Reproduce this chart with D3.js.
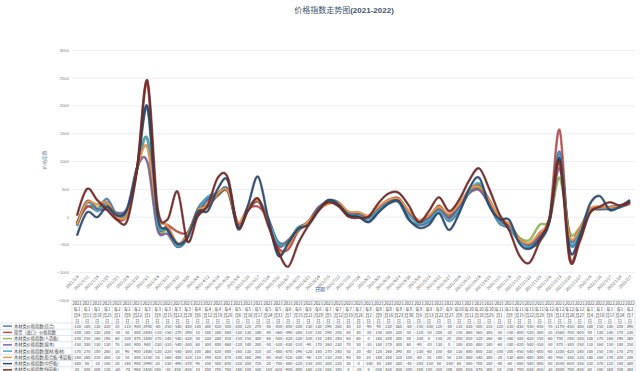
<!DOCTYPE html>
<html>
<head>
<meta charset="utf-8">
<script src="https://cdn.jsdelivr.net/npm/d3@7"></script>
<style>
  body { margin: 0; background: #fff; }
  svg { display: block; font-family: "Noto Sans CJK SC", "Noto Sans", sans-serif; }
</style>
</head>
<body>
<svg id="chart" width="640" height="371"></svg>
<script>
const dates = ["2021-1-4","2021-1-11","2021-1-18","2021-1-25","2021-2-1","2021-2-8","2021-2-22","2021-3-1","2021-3-8","2021-3-15","2021-3-22","2021-3-29","2021-4-6","2021-4-12","2021-4-19","2021-4-26","2021-5-6","2021-5-10","2021-5-17","2021-5-24","2021-5-31","2021-6-7","2021-6-15","2021-6-21","2021-6-28","2021-7-5","2021-7-12","2021-7-19","2021-7-26","2021-8-2","2021-8-9","2021-8-16","2021-8-23","2021-8-30","2021-9-6","2021-9-13","2021-9-22","2021-9-27","2021-10-8","2021-10-11","2021-10-18","2021-10-25","2021-11-1","2021-11-8","2021-11-15","2021-11-22","2021-11-29","2021-12-6","2021-12-13","2021-12-20","2021-12-27","2022-1-4","2022-1-10","2022-1-17","2022-1-24","2022-2-7"];

const seriesNames = ["木材类价格指数(综合)", "现货（进口）价格指数", "木材类价格指数(人造板)", "木材类价格指数(原木)", "木材类价格指数(锯材/板材)", "木材类价格指数(胶合板/多层板)", "木材类价格指数(中纤板)", "木材类价格指数(刨花板)"];
const seriesColors = ["#4F81BD", "#C0504D", "#9BBB59", "#8064A2", "#4BACC6", "#F79646", "#2C4D75", "#772C2A"];

const s1 = [-130,180,130,320,20,110,900,1950,-60,-250,-540,-380,140,340,420, 500,-200,120,270,-40,-450,-450,-200,-130,130,290,260,40,10,-90,90,230,260,-60,-150, -100,120,-80,110,430,500,210,-120,-210,-430,-550,-450,-70,1170,-450,-300,100,150,180,200,290];
const s2 = [-100,180,130,200,-50,50,880,2400,-110,-150,-270,-290,10,180,380, 480,-130,130,180,-40,-560,-590,-260,-110,130,290,200,80,40,-20,150,300,330,50,-120, -50,200,-30,150,460,560,300,-50,-150,-400,-520,-300,-20,1560,-700,-400,80,130,140,170,230];
const s3 = [-150,250,160,190,60,100,870,1400,-170,-240,-540,-320,50,230,380, 450,-150,150,300,-60,-500,-420,-230,-100,150,240,240,60,60,0,160,280,300,80,-100, 0,150,20,200,450,520,260,-40,-160,-380,-420,-150,-60,700,-280,-200,120,170,160,190,260];
const s4 = [-150,280,130,130,70,160,900,980,-230,-310,-540,-300,60,300,400, 460,-120,140,280,-50,-520,-430,-210,-90,170,260,230,70,50,-10,140,270,300,60,-90, -20,130,0,180,420,480,240,-60,-180,-420,-500,-350,-50,870,-380,-250,110,160,150,180,250];
const s5 = [-170,270,100,260,20,90,900,1400,-120,-220,-540,-300,100,360,420, 480,-160,130,310,-30,-480,-470,-190,-120,140,270,240,50,20,-40,120,260,290,40,-130, -60,100,-60,130,440,600,230,-100,-200,-450,-540,-400,-60,1100,-420,-280,100,150,150,170,270];
const s6 = [-140,260,220,260,-10,50,880,1250,20,-160,-480,-320,110,190,420, 470,-100,160,290,-80,-650,-520,-240,-90,120,230,250,90,80,20,180,300,320,100,-60, 20,180,50,220,480,540,300,-20,-130,-400,-480,-300,-40,950,-350,-220,140,180,170,200,240];
const s7 = [-340,80,-10,180,20,140,900,1990,20,-230,-490,-370,90,100,500, 650,-220,200,720,-20,-700,-480,-220,-150,100,300,220,30,0,-100,80,240,280,-40,-200, -150,60,-240,60,500,700,200,-40,-60,-480,-580,-400,-80,1050,-600,-350,220,370,120,180,300];
const s8 = [20,500,300,120,-60,-70,900,2450,180,-50,450,-450,10,200,700, 700,-180,100,330,-150,-620,-900,-480,-160,120,260,190,0,-20,0,250,420,430,200,-100, 100,350,100,300,650,870,500,50,-250,-700,-830,-450,-30,1000,-780,-450,60,180,260,200,260];

const yTicks = [3000, 2500, 2000, 1500, 1000, 500, 0, -500, -1000, -1500];

const allSeries = [s1, s2, s3, s4, s5, s6, s7, s8].map((values, i) => ({
    name: seriesNames[i],
    color: seriesColors[i],
    values
}));

const svg = d3.select("#chart");
const plot = { left: 72, right: 635, top: 50, bottom: 300 };

const x = d3.scaleBand().domain(dates).range([plot.left, plot.right]);
const y = d3.scaleLinear().domain([-1500, 3000]).range([plot.bottom, plot.top]);
const bw = x.bandwidth();
const cx = d => x(d) + bw / 2;

// title
let title = svg.append("text")
    .attr("x", 344).attr("y", 13)
    .attr("text-anchor", "middle")
    .attr("font-size", 8)
    .attr("fill", "#44546a");
title.append("tspan").text("价格指数走势图");
title.append("tspan").attr("font-weight", "bold").attr("font-family", "Liberation Sans, sans-serif").text("(2021-2022)");

// gridlines + y labels
let yAxis = svg.append("g")
    .attr("transform", `translate(${plot.left},0)`)
    .call(d3.axisLeft(y).tickValues(yTicks).tickSize(-(plot.right - plot.left)).tickPadding(3).tickFormat(d3.format("d")));
yAxis.select(".domain").remove();
yAxis.selectAll(".tick line").attr("stroke", "#e6eaf0").attr("stroke-width", 0.8);
yAxis.selectAll(".tick text").attr("font-size", 4.2).attr("fill", "#7f7f7f");

svg.append("text")
    .attr("transform", "translate(46,160) rotate(-90)")
    .attr("text-anchor", "middle")
    .attr("font-size", 4.8)
    .attr("fill", "#8497b0")
    .text("价格指数");

// x labels
let fmtLabel = d => d.replace(/-/g, "/");
svg.append("g").selectAll("text")
    .data(dates)
    .join("text")
    .attr("transform", d => `translate(${cx(d) + 2},${277}) rotate(-45)`)
    .attr("text-anchor", "end")
    .attr("font-size", 4)
    .attr("fill", "#595959")
    .text(fmtLabel);

svg.append("text")
    .attr("x", 320).attr("y", 291)
    .attr("text-anchor", "middle")
    .attr("font-size", 5)
    .attr("fill", "#2f5597")
    .text("日期");

// lines
let line = d3.line()
    .x((d, i) => cx(dates[i]))
    .y(d => y(d))
    .curve(d3.curveCatmullRom.alpha(0));

let lineG = svg.append("g").attr("fill", "none");
allSeries.forEach(s => {
    lineG.append("path")
        .attr("d", line(s.values))
        .attr("stroke", d3.color(s.color).darker(1.2))
        .attr("stroke-opacity", 0.55)
        .attr("stroke-width", 2.6);
    lineG.append("path")
        .attr("d", line(s.values))
        .attr("stroke", s.color)
        .attr("stroke-width", 1.5);
});

// data table
const headTop = 300, headH = 23, rowH = 6.25;
const gridColor = "#c9d3e3";
let table = svg.append("g");

let head = table.selectAll(".headCell")
    .data(dates)
    .join("g")
    .attr("class", "headCell");
head.append("text")
    .attr("text-anchor", "middle")
    .attr("font-size", 4.2)
    .attr("fill", "#404040")
    .each(function(d) {
        let [yr, mo, dy] = d.split("-");
        let t = d3.select(this);
        [yr, "年" + mo, "月" + dy, "日"].forEach((s, k) => {
            t.append("tspan").attr("x", cx(d)).attr("y", headTop + 4.5 + k * 6).text(s);
        });
    });

let rows = table.selectAll(".dataRow")
    .data(allSeries)
    .join("g")
    .attr("class", "dataRow")
    .attr("transform", (d, i) => `translate(0,${headTop + headH + i * rowH})`);

rows.append("line")
    .attr("x1", 3).attr("x2", 12)
    .attr("y1", rowH / 2).attr("y2", rowH / 2)
    .attr("stroke", d => d.color)
    .attr("stroke-width", 1.5);
rows.append("text")
    .attr("x", 14).attr("y", rowH / 2 + 1.5)
    .attr("font-size", 4.2)
    .attr("fill", "#404040")
    .text(d => d.name);
rows.selectAll(".val")
    .data(d => d.values)
    .join("text")
    .attr("class", "val")
    .attr("x", (v, i) => cx(dates[i]))
    .attr("y", rowH / 2 + 1.5)
    .attr("text-anchor", "middle")
    .attr("font-size", 4)
    .attr("fill", "#404040")
    .text(v => v);

// table grid
let nRows = allSeries.length;
let tableBottom = headTop + headH + nRows * rowH;
table.append("line")
    .attr("x1", plot.left).attr("x2", plot.right)
    .attr("y1", headTop).attr("y2", headTop)
    .attr("stroke", gridColor).attr("stroke-width", 0.6);
d3.range(nRows + 1).forEach(i => {
    let yy = headTop + headH + i * rowH;
    table.append("line")
        .attr("x1", 0).attr("x2", plot.right)
        .attr("y1", yy).attr("y2", yy)
        .attr("stroke", gridColor).attr("stroke-width", 0.6);
});
table.selectAll(".vline")
    .data(dates.concat(["end"]))
    .join("line")
    .attr("class", "vline")
    .attr("x1", d => d == "end" ? plot.right : x(d))
    .attr("x2", d => d == "end" ? plot.right : x(d))
    .attr("y1", headTop).attr("y2", tableBottom)
    .attr("stroke", gridColor).attr("stroke-width", 0.6);
table.append("line")
    .attr("x1", 0).attr("x2", 0)
    .attr("y1", headTop + headH).attr("y2", tableBottom)
    .attr("stroke", gridColor).attr("stroke-width", 0.6);
</script>
</body>
</html>
